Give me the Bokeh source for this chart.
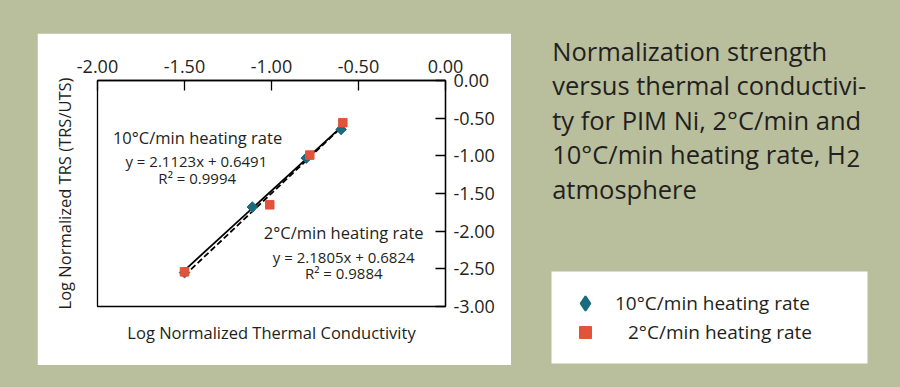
import numpy as np
from bokeh.plotting import figure
from bokeh.models import (LinearAxis, FixedTicker, NumeralTickFormatter, Label, BoxAnnotation,
                          Legend, LegendItem, GlobalInlineStyleSheet, Range1d)
from bokeh.embed import file_html
from bokeh.resources import INLINE

GREEN = "#B9BF9D"
TEAL = "#1B6B7E"
RED = "#E2533A"
INK = "#231F20"
FONT = "Open Sans"

# ---- data ----
x_ticks = [-2.0, -1.5, -1.0, -0.5, 0.0]
y_ticks = [0.0, -0.5, -1.0, -1.5, -2.0, -2.5, -3.0]

x_10 = [-1.50, -1.11, -0.80, -0.60]
y_10 = [-2.55, -1.68, -1.03, -0.65]
x_2 = [-1.50, -1.01, -0.78, -0.59]
y_2 = [-2.54, -1.65, -0.99, -0.56]

fit_10 = [2.1123, 0.6491]
r2_10 = 0.9994
fit_2 = [2.1805, 0.6824]
r2_2 = 0.9884

series_names = ["10°C/min heating rate", "2°C/min heating rate"]
x_title = "Log Normalized Thermal Conductivity"
y_title = "Log Normalized TRS (TRS/UTS)"
title_lines = ["Normalization strength", "versus thermal conductivi-",
               "ty for PIM Ni, 2°C/min and", "10°C/min heating rate, H", "atmosphere"]

# ---------------- main chart (white panel) ----------------
p = figure(x_range=(-2, 0), y_range=(-3, 0), frame_width=348, frame_height=226,
           min_border_left=60, min_border_right=66, min_border_top=47, min_border_bottom=59,
           x_axis_location="above", y_axis_location="right",
           output_backend="svg", toolbar_location=None,
           border_fill_color="white", background_fill_color="white",
           outline_line_color="black", outline_line_width=1.3,
           margin=(33, 0, 0, 37))
p.grid.visible = False

for ax, ticks in ((p.xaxis[0], x_ticks), (p.yaxis[0], y_ticks)):
    ax.ticker = FixedTicker(ticks=ticks)
    ax.formatter = NumeralTickFormatter(format="0.00")
    ax.major_tick_in = 10
    ax.major_tick_out = 0
    ax.minor_tick_line_color = None
    ax.major_tick_line_color = "black"
    ax.major_tick_line_width = 1.3
    ax.axis_line_color = "black"
    ax.axis_line_width = 1.3
    ax.major_label_text_font = FONT
    ax.major_label_text_font_size = "18px"
    ax.major_label_text_color = INK
p.xaxis[0].major_label_standoff = 8
p.yaxis[0].major_label_standoff = 8


def label_axis(text, standoff):
    return LinearAxis(axis_label=text, ticker=FixedTicker(ticks=[]), axis_line_color=None,
                      major_tick_line_color=None, minor_tick_line_color=None,
                      major_label_text_font_size="0px", axis_label_text_font=FONT,
                      axis_label_text_font_size="16.5px", axis_label_text_font_style="normal",
                      axis_label_text_color=INK, axis_label_standoff=standoff)


p.add_layout(label_axis(y_title, 22), "left")
p.add_layout(label_axis(x_title, 14), "below")

# trend lines from the fitted equations
for xs, fit, dash in ((x_10, fit_10, "solid"), (x_2, fit_2, "6 3")):
    xe = np.array([min(xs), max(xs)])
    p.line(xe, fit[0] * xe + fit[1], line_color="black", line_width=1.8, line_dash=dash)

p.scatter(x_10, y_10, marker="square", angle=np.pi / 4, size=7.5,
          fill_color=TEAL, line_color=TEAL)
p.scatter(x_2, y_2, marker="square", size=8.5, fill_color=RED, line_color=RED)

ann = [
    (series_names[0], -1.425, -0.750, "16.5px"),
    ("y = %.4fx + %.4f" % (fit_10[0], fit_10[1]), -1.432, -1.062, "15px"),
    ("R² = %.4f" % r2_10, -1.427, -1.297, "15px"),
    (series_names[1], -0.585, -2.022, "16.5px"),
    ("y = %.4fx + %.4f" % (fit_2[0], fit_2[1]), -0.585, -2.337, "15px"),
    ("R² = %.4f" % r2_2, -0.585, -2.553, "15px"),
]
for text, x, y, fs in ann:
    p.add_layout(Label(x=x, y=y, text=text, text_font=FONT, text_font_size=fs, text_color=INK,
                       text_align="center", text_baseline="alphabetic"))

# ---------------- right panel (caption + legend), page-pixel ranges ----------------
q = figure(x_range=Range1d(511, 900), y_range=Range1d(387, 0), frame_width=389, frame_height=387,
           min_border=0, x_axis_location=None, y_axis_location=None,
           output_backend="svg", toolbar_location=None,
           border_fill_color=GREEN, background_fill_color=GREEN, outline_line_color=None)
q.grid.visible = False
q.title.visible = False

q.add_layout(BoxAnnotation(left=551, right=867, top=271, bottom=363, fill_color="white",
                           fill_alpha=1, line_color=None, level="underlay"))

for i, line in enumerate(title_lines):
    q.add_layout(Label(x=551.7, y=50 + 34.5 * i, text=line, text_font=FONT,
                       text_font_size="25.5px", text_color=INK,
                       text_align="left", text_baseline="alphabetic"))
q.add_layout(Label(x=846, y=157.5, text="2", text_font=FONT, text_font_size="24px",
                   text_color=INK, text_align="left", text_baseline="alphabetic"))

# legend renderers (hidden in this panel, shown only as legend glyphs)
l10 = q.scatter(x_10, y_10, marker="diamond", fill_color=TEAL, line_color=TEAL,
                line_width=2, visible=False)
l2 = q.scatter(x_2, y_2, marker="square", fill_color=RED, line_color=RED, visible=False)

legend_style = dict(orientation="vertical", padding=0, margin=0, spacing=0,
                    border_line_color=None, background_fill_alpha=0, inactive_fill_alpha=0,
                    label_text_font=FONT, label_text_font_size="19px", label_text_color=INK)
q.add_layout(Legend(items=[LegendItem(label=series_names[0], renderers=[l10])],
                    location=(56, 66), glyph_width=36, glyph_height=36, label_height=36,
                    label_standoff=12, **legend_style))
q.add_layout(Legend(items=[LegendItem(label=series_names[1], renderers=[l2])],
                    location=(59, 40), glyph_width=30, glyph_height=30, label_height=30,
                    label_standoff=28, **legend_style))

css = ("html, body { background-color: %s; margin: 0; }"
       " body { display: flex; flex-direction: row; align-items: flex-start; }"
       " body > * { flex: none; }" % GREEN)
p.stylesheets = [GlobalInlineStyleSheet(css=css)]

open("out.html", "w").write(file_html([p, q], INLINE))
